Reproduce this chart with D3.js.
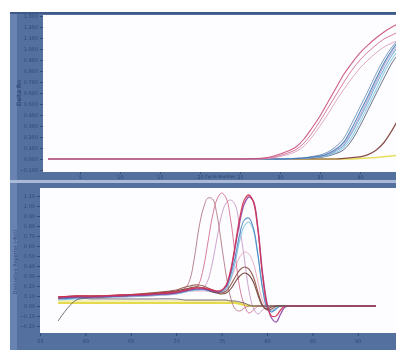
<!DOCTYPE html>
<html><head><meta charset="utf-8">
<script src="https://cdn.jsdelivr.net/npm/d3@7"></script>
<style>body{margin:0;background:#fff}svg{display:block}</style>
</head><body>
<script>
// ---------- Amplification plot data (cycle vs Delta Rn) ----------
const cycles = [1, 24, 27, 29, 30, 31, 32, 33, 34, 35, 36, 37, 38, 39, 40, 41, 42, 43, 44, 45];
const ampPinkA   = [0, 0, .005, .023, .045, .073, .109, .182, .282, .391, .518, .645, .773, .873, .964, 1.036, 1.1, 1.155, 1.2, 1.236];
const ampPinkB   = [0, 0, 0, .014, .032, .055, .086, .145, .236, .345, .464, .582, .7, .809, .9, .973, 1.036, 1.091, 1.127, 1.164];
const ampPinkC   = [0, 0, 0, .009, .023, .041, .068, .118, .2, .3, .409, .527, .636, .736, .827, .9, .964, 1.018, 1.055, 1.082];
const ampBlue1   = [0, 0, 0, 0, 0, .002, .005, .009, .018, .027, .05, .091, .155, .282, .427, .573, .727, .873, .991, 1.082];
const ampBlue2   = [0, 0, 0, 0, 0, .002, .004, .007, .014, .023, .036, .073, .123, .236, .373, .518, .673, .818, .945, 1.045];
const ampCyan    = [0, 0, 0, 0, 0, .002, .004, .007, .014, .018, .032, .059, .105, .2, .336, .482, .627, .782, .909, 1.009];
const ampSteel   = [0, 0, 0, 0, 0, .003, .007, .01, .023, .036, .064, .114, .191, .327, .473, .618, .773, .909, 1.018, 1.1];
const ampLavender= [0, 0, 0, 0, 0, .002, .004, .008, .016, .025, .042, .08, .14, .255, .395, .545, .7, .85, .97, 1.06];
const ampGray    = [0, 0, 0, 0, 0, .002, .003, .005, .009, .014, .027, .05, .086, .173, .3, .445, .591, .736, .873, .973];
const ampBrown   = [0, 0, 0, 0, 0, 0, 0, 0, 0, 0, 0, 0, .005, .012, .02, .04, .08, .15, .26, .39];
const ampYellow  = [0, 0, 0, 0, 0, 0, 0, 0, 0, 0, 0, 0, 0, 0, .005, .009, .014, .02, .027, .036];

// ---------- Melt curve data (temperature vs derivative) ----------
const temps = [57, 59, 61, 64, 67, 70, 71, 71.5, 72, 72.5, 73, 73.5, 74, 74.5, 75, 75.5, 76, 76.5, 77, 77.5, 78, 78.5, 79, 79.5, 80, 80.5, 81, 81.5, 82, 83, 86, 92];
const meltYellow2 = [.05,.05,.05,.05,.05,.05,.05,.05,.05,.05,.05,.05,.05,.05,.05,.05,.05,.04,.03,.02,.01,0,0,0,0,0,0,0,0,0,0,0];
const meltYellow  = [.03,.03,.03,.03,.03,.03,.03,.03,.03,.03,.03,.03,.03,.03,.03,.03,.03,.03,.02,.01,0,0,0,0,0,0,0,0,0,0,0,0];
const meltMauve   = [.09,.10,.10,.11,.12,.14,.18,.26,.48,.78,.98,1.08,1.07,.91,.61,.31,.08,-.03,-.05,-.02,0,0,0,0,0,0,0,0,0,0,0,0];
const meltRose    = [.09,.10,.10,.11,.12,.14,.16,.17,.17,.22,.38,.64,.90,1.07,1.13,1.08,.86,.51,.18,.01,-.07,-.04,0,0,0,0,0,0,0,0,0,0];
const meltLilac   = [.08,.09,.09,.10,.11,.13,.15,.16,.16,.16,.18,.26,.44,.68,.91,1.03,1.06,1.01,.78,.48,.16,-.02,-.08,-.04,0,0,0,0,0,0,0,0];
const meltPink    = [.07,.08,.08,.09,.10,.12,.14,.15,.15,.15,.15,.15,.14,.14,.14,.17,.26,.38,.49,.54,.52,.43,.24,.06,-.03,-.04,-.01,0,0,0,0,0];
const meltCyan    = [.06,.07,.08,.09,.10,.12,.14,.15,.155,.16,.16,.15,.14,.13,.14,.17,.27,.44,.66,.80,.84,.76,.51,.19,0,-.05,-.02,0,0,0,0,0];
const meltBlue    = [.07,.08,.09,.10,.11,.13,.15,.16,.165,.17,.17,.16,.15,.14,.15,.19,.31,.49,.72,.86,.88,.78,.51,.18,-.02,-.06,-.03,0,0,0,0,0];
const meltBrown   = [.09,.10,.10,.11,.13,.16,.19,.20,.21,.21,.20,.18,.16,.14,.13,.15,.21,.29,.36,.39,.37,.29,.14,.01,-.04,-.03,0,0,0,0,0,0];
const meltDkBrown = [.08,.09,.09,.10,.12,.15,.17,.18,.19,.19,.18,.16,.14,.13,.12,.13,.17,.24,.30,.33,.31,.24,.11,0,-.03,-.01,0,0,0,0,0,0];
const meltPurple  = [.08,.09,.09,.10,.11,.13,.15,.16,.17,.17,.17,.16,.15,.14,.15,.20,.34,.59,.84,1.02,1.09,1.05,.78,.34,.03,-.12,-.16,-.08,-.01,0,0,0];
const meltRed     = [.09,.10,.10,.11,.12,.14,.16,.17,.18,.18,.18,.17,.16,.15,.16,.21,.36,.61,.88,1.06,1.11,1.04,.76,.31,.01,-.10,-.10,-.04,0,0,0,0];
const meltNTC     = [-.15,.06,.07,.07,.07,.07,.06,.06,.06,.06,.06,.06,.06,.06,.06,.06,.05,.05,.04,.03,.01,0,0,0,0,0,0,0,0,0,0,0];

// ---------- Tick values ----------
const cycleTicks = [5, 10, 15, 20, 25, 30, 35, 40];
const rnTicks = [-0.1, 0, 0.1, 0.2, 0.3, 0.4, 0.5, 0.6, 0.7, 0.8, 0.9, 1.0, 1.1, 1.2, 1.3];
const tempTicks = [55, 60, 65, 70, 75, 80, 85, 90];
const derivTicks = [-0.2, -0.1, 0, 0.1, 0.2, 0.3, 0.4, 0.5, 0.6, 0.7, 0.8, 0.9, 1.0, 1.1];

// ---------- Styles ----------
const ampSeries = [
  [ampYellow, "#e4da4a", 1.6], [ampBrown, "#7a3b35", 1.2], [ampGray, "#5d6274", 1.0],
  [ampCyan, "#86c8e0", 1.1], [ampBlue2, "#70acd8", 1.1], [ampLavender, "#b79ac8", 1.0],
  [ampSteel, "#6f90b4", 1.0], [ampBlue1, "#3f7bb8", 1.1],
  [ampPinkC, "#d9a0bd", 1.0], [ampPinkB, "#cf6f93", 1.0], [ampPinkA, "#c84c78", 1.1]
];
const meltSeries = [
  [meltYellow2, "#efe88e", 1.6], [meltYellow, "#e2d63a", 2.0],
  [meltPink, "#e7a6bd", 1.0], [meltLilac, "#c79ac6", 1.0], [meltMauve, "#b07a86", 1.0],
  [meltRose, "#d4708f", 1.0], [meltCyan, "#80c6df", 1.1], [meltBlue, "#4a86c2", 1.1],
  [meltBrown, "#8c4c3e", 1.1], [meltDkBrown, "#6b3a32", 1.1],
  [meltPurple, "#8f46a8", 1.3], [meltRed, "#d2304f", 1.3], [meltNTC, "#6a6268", 1.0]
];

const W = 396, H = 350;
const frameCol = "#54709f", textCol = "#243a66";
const svg = d3.select("body").append("svg").attr("width", W).attr("height", H);
const defs = svg.append("defs");
const f = defs.append("filter").attr("id", "soft").attr("x", "-5%").attr("y", "-5%").attr("width", "110%").attr("height", "110%");
f.append("feGaussianBlur").attr("stdDeviation", 0.45);
const ft = defs.append("filter").attr("id", "softer");
ft.append("feGaussianBlur").attr("stdDeviation", 0.6);

svg.append("rect").attr("width", W).attr("height", H).attr("fill", "#fff");

// frames
svg.append("rect").attr("x", 10).attr("y", 12).attr("width", W - 10).attr("height", H - 12).attr("fill", frameCol);
svg.append("rect").attr("x", 10).attr("y", 12).attr("width", 7).attr("height", H - 12).attr("fill", "#6882b2");
svg.append("rect").attr("x", 10).attr("y", 12).attr("width", W - 10).attr("height", 2).attr("fill", "#3e5887");
svg.append("rect").attr("x", 10).attr("y", 180).attr("width", W - 10).attr("height", 3).attr("fill", "#a9bad9");

// plot areas
const pTop = {x0: 43, x1: 396, y0: 15, y1: 172};
const pBot = {x0: 40, x1: 396, y0: 188, y1: 333};
svg.append("rect").attr("x", pTop.x0).attr("y", pTop.y0).attr("width", pTop.x1 - pTop.x0).attr("height", pTop.y1 - pTop.y0).attr("fill", "#fdfdff");
svg.append("rect").attr("x", pBot.x0).attr("y", pBot.y0).attr("width", pBot.x1 - pBot.x0).attr("height", pBot.y1 - pBot.y0).attr("fill", "#fdfdff");
defs.append("clipPath").attr("id", "ctop").append("rect").attr("x", pTop.x0).attr("y", pTop.y0).attr("width", pTop.x1 - pTop.x0).attr("height", pTop.y1 - pTop.y0);
defs.append("clipPath").attr("id", "cbot").append("rect").attr("x", pBot.x0).attr("y", pBot.y0).attr("width", pBot.x1 - pBot.x0).attr("height", pBot.y1 - pBot.y0);

// scales
const xTop = d3.scaleLinear().domain([0, 45]).range([40, 400]);
const yTop = d3.scaleLinear().domain([0, 1]).range([159, 49]);
const xBot = d3.scaleLinear().domain([55, 90]).range([40, 40 + 35 * 9.08]);
const yBot = d3.scaleLinear().domain([0, 1]).range([306, 206]);

function styleAxis(g) {
  g.select(".domain").remove();
  g.selectAll(".tick line").attr("stroke", textCol).attr("stroke-opacity", 0.7);
  g.selectAll(".tick text").attr("fill", textCol).attr("fill-opacity", 0.75)
    .attr("font-family", "DejaVu Sans").attr("font-size", 5);
  g.attr("filter", "url(#softer)");
}

// top axes
svg.append("g").attr("transform", `translate(${pTop.x0},0)`)
  .call(d3.axisLeft(yTop).tickValues(rnTicks).tickFormat(d3.format(".3f")).tickSize(3).tickPadding(2))
  .call(styleAxis);
svg.append("g").attr("transform", `translate(0,${pTop.y1})`)
  .call(d3.axisBottom(xTop).tickValues(cycleTicks).tickFormat(d3.format("d")).tickSize(2).tickPadding(1))
  .call(styleAxis);
// bottom axes
svg.append("g").attr("transform", `translate(${pBot.x0},0)`)
  .call(d3.axisLeft(yBot).tickValues(derivTicks).tickFormat(d3.format(".2f")).tickSize(3).tickPadding(2))
  .call(styleAxis);
svg.append("g").attr("transform", `translate(0,${pBot.y1})`)
  .call(d3.axisBottom(xBot).tickValues(tempTicks).tickFormat(d3.format("d")).tickSize(3).tickPadding(3))
  .call(styleAxis);

// axis titles
const titles = svg.append("g").attr("fill", textCol).attr("font-family", "DejaVu Sans").attr("filter", "url(#softer)");
titles.append("text").attr("transform", "translate(21,93) rotate(-90)").attr("text-anchor", "middle")
  .attr("font-size", 6).text("Delta Rn");
titles.append("text").attr("x", 220).attr("y", 178).attr("text-anchor", "middle").attr("font-size", 4.3).attr("fill-opacity", 0.8)
  .text("Cycle Number");
titles.append("text").attr("transform", "translate(17,262) rotate(-90)").attr("text-anchor", "middle")
  .attr("font-size", 5).attr("fill-opacity", 0.8).text("Derivative Reporter (-Rn')");

// amplification curves
const lineTop = d3.line().x((d, i) => xTop(cycles[i])).y(d => yTop(d)).curve(d3.curveMonotoneX);
const gTop = svg.append("g").attr("clip-path", "url(#ctop)").append("g").attr("filter", "url(#soft)");
ampSeries.forEach(([vals, col, w]) => {
  gTop.append("path").attr("d", lineTop(vals)).attr("fill", "none").attr("stroke", col)
    .attr("stroke-width", w).attr("stroke-opacity", 0.9);
});

// melt curves
const lineBot = d3.line().x((d, i) => xBot(temps[i])).y(d => yBot(d)).curve(d3.curveCatmullRom.alpha(0.5));
const gBot = svg.append("g").attr("clip-path", "url(#cbot)").append("g").attr("filter", "url(#soft)");
meltSeries.forEach(([vals, col, w]) => {
  gBot.append("path").attr("d", lineBot(vals)).attr("fill", "none").attr("stroke", col)
    .attr("stroke-width", w).attr("stroke-opacity", 0.9);
});
</script>
</body></html>
